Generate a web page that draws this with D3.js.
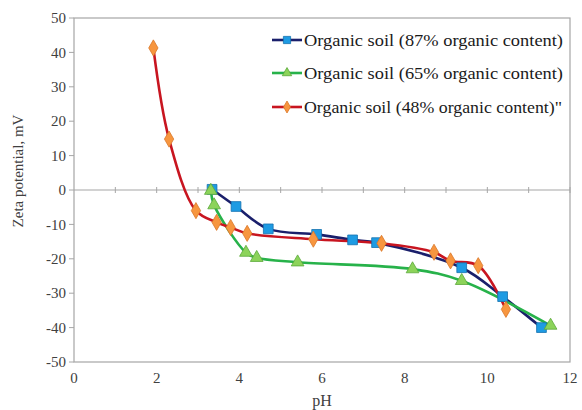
<!DOCTYPE html>
<html><head><meta charset="utf-8">
<script src="https://cdn.jsdelivr.net/npm/d3@7"></script>
<style>
body{margin:0;background:#fff;}
svg{display:block;font-family:"Liberation Serif","Times New Roman",serif;}
</style></head>
<body><svg id="c" width="582" height="410"></svg>
<script>
const seriesNames = ["Organic soil (87% organic content)", "Organic soil (65% organic content)", "Organic soil (48% organic content)\""];
const ph87 = [3.34, 3.92, 4.70, 5.87, 6.74, 7.32, 9.38, 10.37, 11.31];
const zeta87 = [0.2, -4.8, -11.3, -12.9, -14.5, -15.3, -22.6, -31.0, -40.0];
const ph65 = [3.31, 3.39, 4.16, 4.42, 5.41, 8.19, 9.38, 11.53];
const zeta65 = [-0.2, -4.4, -18.2, -19.7, -21.0, -23.0, -26.4, -39.4];
const ph48 = [1.92, 2.30, 2.95, 3.45, 3.79, 4.19, 5.79, 7.44, 8.71, 9.11, 9.78, 10.45];
const zeta48 = [41.3, 14.8, -6.0, -9.4, -10.9, -12.6, -14.3, -15.5, -18.1, -20.6, -22.0, -34.7];
const xTicks = [0, 2, 4, 6, 8, 10, 12];
const yTicks = [50, 40, 30, 20, 10, 0, -10, -20, -30, -40, -50];

const svg = d3.select("#c");
const L = 74, R = 570, T = 18, B = 362;
const x = d3.scaleLinear().domain([0, 12]).range([L, R]);
const y = d3.scaleLinear().domain([-50, 50]).range([B, T]);

// plot border
svg.append("rect").attr("x", L).attr("y", T).attr("width", R - L).attr("height", B - T)
  .attr("fill", "none").attr("stroke", "#a6a6a6").attr("stroke-width", 1.2);

// y axis ticks & labels
const g = svg.append("g");
yTicks.forEach(v => {
  g.append("line").attr("x1", L - 5).attr("x2", L).attr("y1", y(v)).attr("y2", y(v))
    .attr("stroke", "#a6a6a6");
  g.append("text").attr("x", L - 8).attr("y", y(v)).attr("dy", "0.35em")
    .attr("text-anchor", "end").attr("font-size", 15).attr("fill", "#404040").text(v);
});
// x axis at zero
g.append("line").attr("x1", L).attr("x2", R).attr("y1", y(0)).attr("y2", y(0))
  .attr("stroke", "#a6a6a6").attr("stroke-width", 1.2);
d3.range(1, 13).forEach(v => {
  g.append("line").attr("x1", x(v)).attr("x2", x(v)).attr("y1", y(0) - 3).attr("y2", y(0) + 3)
    .attr("stroke", "#a6a6a6");
});
xTicks.forEach(v => {
  g.append("text").attr("x", x(v)).attr("y", 383).attr("text-anchor", "middle")
    .attr("font-size", 15).attr("fill", "#404040").text(v);
});
svg.append("text").attr("x", x(6)).attr("y", 406).attr("text-anchor", "middle")
  .attr("font-size", 16).attr("fill", "#404040").text("pH");
svg.append("text").attr("transform", "translate(23,171) rotate(-90)").attr("text-anchor", "middle")
  .attr("font-size", 15).attr("fill", "#404040").text("Zeta potential, mV");

const series = [
  {xs: ph87, ys: zeta87, line: "#1a1f6b", fill: "#1e9be3", stroke: "#1572b0", sym: d3.symbolSquare, size: 95},
  {xs: ph65, ys: zeta65, line: "#27b24a", fill: "#8cd35a", stroke: "#5aa83a", sym: d3.symbolTriangle, size: 70},
  {xs: ph48, ys: zeta48, line: "#c81520", fill: "#f7963f", stroke: "#d9772a", sym: d3.symbolDiamond, size: 75}
];
const line = d3.line().x(d => x(d[0])).y(d => y(d[1])).curve(d3.curveCatmullRom.alpha(0.5));
series.forEach(s => {
  const pts = s.xs.map((v, i) => [v, s.ys[i]]);
  svg.append("path").attr("d", line(pts)).attr("fill", "none").attr("stroke", s.line).attr("stroke-width", 2.6);
});
series.forEach(s => {
  const pts = s.xs.map((v, i) => [v, s.ys[i]]);
  svg.selectAll(null).data(pts).enter().append("path")
    .attr("d", d3.symbol().type(s.sym).size(s.size))
    .attr("transform", d => `translate(${x(d[0])},${y(d[1])})`)
    .attr("fill", s.fill).attr("stroke", s.stroke).attr("stroke-width", 0.8);
});

// legend
const legY = [40, 73, 107];
const legW = [259, 259, 258];
series.forEach((s, i) => {
  const lg = svg.append("g").attr("transform", `translate(0,${legY[i]})`);
  lg.append("line").attr("x1", 272).attr("x2", 302).attr("y1", 0).attr("y2", 0)
    .attr("stroke", s.line).attr("stroke-width", 2.6);
  lg.append("path").attr("d", d3.symbol().type(s.sym).size(s.size * 0.55)())
    .attr("transform", "translate(287,0)").attr("fill", s.fill).attr("stroke", s.stroke).attr("stroke-width", 0.8);
  lg.append("text").attr("x", 304).attr("y", 0).attr("dy", "0.35em").attr("font-size", 17.5)
    .attr("textLength", legW[i]).attr("lengthAdjust", "spacingAndGlyphs")
    .attr("fill", "#1a1a1a").text(seriesNames[i]);
});
</script></body></html>
